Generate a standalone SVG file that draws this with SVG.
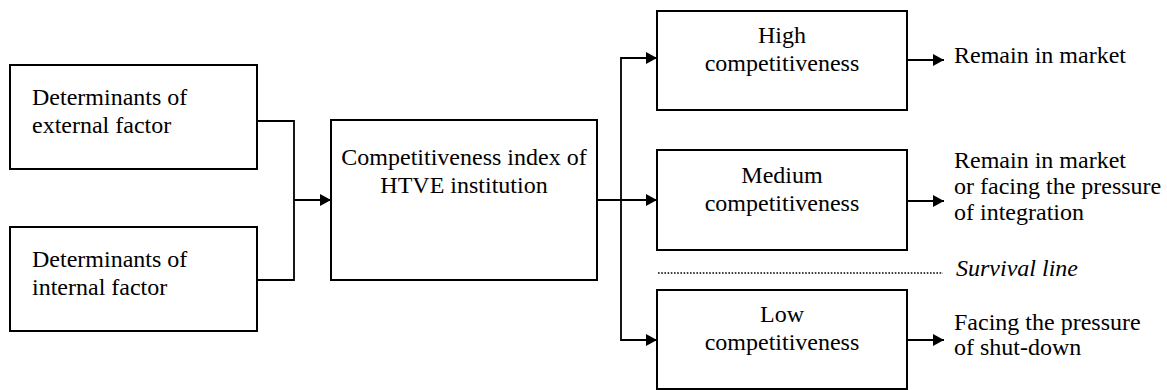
<svg xmlns="http://www.w3.org/2000/svg" width="1167" height="390" viewBox="0 0 1167 390">
<style>
.box{fill:#fff;stroke:#000;stroke-width:2}
.t{font-family:'Liberation Serif','Times New Roman',serif;font-size:24px;fill:#000}
.c{text-anchor:middle}
.conn{fill:none;stroke:#000;stroke-width:1.8}
</style>
<defs>
<marker id="arr" markerWidth="12" markerHeight="12" refX="11" refY="6" orient="auto" markerUnits="userSpaceOnUse">
<path d="M0,0 L11,6 L0,12 Z" fill="#000"/>
</marker>
</defs>
<rect width="1167" height="390" fill="#fff"/>
<g id="ext">
<rect class="box" x="10" y="65" width="247" height="104"/>
<text class="t" x="32" y="105">Determinants of</text>
<text class="t" x="32" y="133">external factor</text>
</g>
<g id="int">
<rect class="box" x="10" y="227" width="247" height="104"/>
<text class="t" x="32" y="267">Determinants of</text>
<text class="t" x="32" y="295">internal factor</text>
</g>
<g id="index">
<rect class="box" x="331" y="120" width="266" height="160"/>
<text class="t c" x="464" y="165">Competitiveness index of</text>
<text class="t c" x="464" y="193">HTVE institution</text>
</g>
<g id="high">
<rect class="box" x="657" y="11" width="250" height="99"/>
<text class="t c" x="782" y="43">High</text>
<text class="t c" x="782" y="71">competitiveness</text>
</g>
<g id="medium">
<rect class="box" x="657" y="150" width="250" height="100"/>
<text class="t c" x="782" y="183">Medium</text>
<text class="t c" x="782" y="211">competitiveness</text>
</g>
<g id="low">
<rect class="box" x="657" y="290" width="250" height="99"/>
<text class="t c" x="782" y="322">Low</text>
<text class="t c" x="782" y="350">competitiveness</text>
</g>
<g id="out-high">
<text class="t" x="954" y="63">Remain in market</text>
</g>
<g id="out-medium">
<text class="t" x="954" y="168">Remain in market</text>
<text class="t" x="954" y="194">or facing the pressure</text>
<text class="t" x="954" y="220">of integration</text>
</g>
<g id="out-low">
<text class="t" x="954" y="330">Facing the pressure</text>
<text class="t" x="954" y="355">of shut-down</text>
</g>
<g id="survival">
<line x1="658" y1="273" x2="943" y2="273" stroke="#000" stroke-width="1.6" stroke-dasharray="1.6 1.6"/>
<text class="t" x="956" y="276" font-style="italic">Survival line</text>
</g>
<g id="connectors">
<polyline class="conn" points="257,121 294,121 294,280 257,280"/>
<line class="conn" x1="294" y1="200" x2="331" y2="200" marker-end="url(#arr)"/>
<line class="conn" x1="597" y1="200" x2="657" y2="200" marker-end="url(#arr)"/>
<polyline class="conn" points="657,58 621,58 621,340 657,340" marker-end="url(#arr)"/>
<path class="conn" d="M621,58 L657,58" marker-end="url(#arr)"/>
<line class="conn" x1="907" y1="60" x2="944" y2="60" marker-end="url(#arr)"/>
<line class="conn" x1="907" y1="201" x2="944" y2="201" marker-end="url(#arr)"/>
<line class="conn" x1="907" y1="340" x2="944" y2="340" marker-end="url(#arr)"/>
</g>
</svg>
